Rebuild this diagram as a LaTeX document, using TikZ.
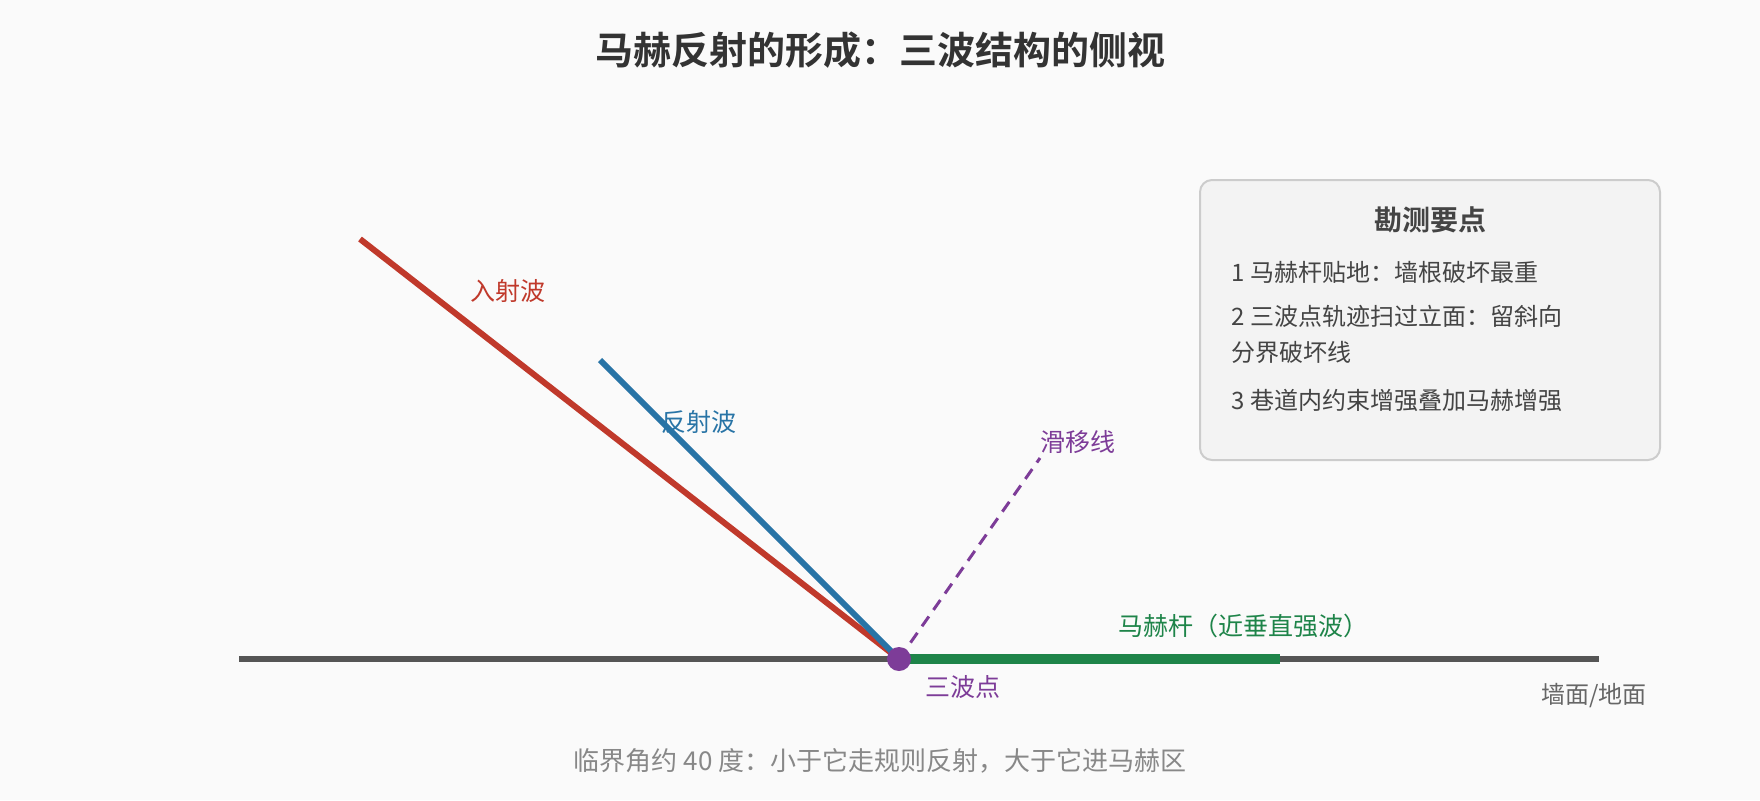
\documentclass[tikz,border=0pt]{standalone}
\usepackage{fontspec}
\setmainfont{Noto Sans CJK SC}[BoldFont={Noto Sans CJK SC Bold}]
\definecolor{bgcol}{HTML}{FAFAFA}
\definecolor{titlecol}{HTML}{333333}
\definecolor{incol}{HTML}{C0392B}
\definecolor{refcol}{HTML}{2874A6}
\definecolor{slipcol}{HTML}{7D3C98}
\definecolor{stemcol}{HTML}{1E8449}
\definecolor{groundcol}{HTML}{555555}
\definecolor{boxfill}{HTML}{F3F3F3}
\definecolor{boxline}{HTML}{CCCCCC}
\definecolor{itemcol}{HTML}{444444}
\definecolor{notecol}{HTML}{888888}
\definecolor{wallcol}{HTML}{666666}

\begin{document}
\begin{tikzpicture}[x = 0.5pt, y = -0.5pt,
                    lbl/.style = {inner sep = 0pt, font = \fontsize{12.5}{15}\selectfont},
                    item/.style = {inner sep = 0pt, anchor = west, text = itemcol, align = left,
                                   font = \fontsize{12}{18}\selectfont},
                    wave/.style = {line width = 3pt},
                    tpdot/.style = {circle, fill = slipcol, inner sep = 0pt, minimum size = 12pt}]
      \fill [bgcol] (0, 0) rectangle (1760, 800);
      \useasboundingbox (0, 0) rectangle (1760, 800);

      \node [text = titlecol, font = \fontsize{19}{23}\selectfont\bfseries] (title) at (880, 50)
            {马赫反射的形成：三波结构的侧视};

      \coordinate (gl) at (239, 659);
      \coordinate (gr) at (1599, 659);
      \coordinate (tp) at (899, 659);
      \coordinate (ms) at (1280, 659);
      \coordinate (inc) at (360, 239);
      \coordinate (refl) at (600, 360);
      \coordinate (slip) at (1040, 458);

      \draw [groundcol, line width = 3pt] (gl) -- (gr);
      \draw [stemcol, line width = 5pt] (tp) -- (ms);
      \draw [wave, incol] (inc) -- (tp);
      \draw [wave, refcol] (refl) -- (tp);
      \draw [slipcol, line width = 1.5pt, dash pattern = on 6pt off 4pt] (tp) -- (slip);
      \node [tpdot] (tpd) at (tp) {};

      \node [lbl, text = incol] (inclbl) at (508, 291) {入射波};
      \node [lbl, text = refcol] (refllbl) at (699, 422) {反射波};
      \node [lbl, text = slipcol, anchor = west] (sliplbl) at (1040, 442) {滑移线};
      \node [lbl, text = slipcol] (tplbl) at (963, 687) {三波点};
      \node [lbl, text = stemcol] (mslbl) at (1243, 626) {马赫杆（近垂直强波）};
      \node [lbl, text = wallcol, anchor = east, font = \fontsize{12}{14}\selectfont] (walllbl) at (1647, 696) {墙面/地面};

      \node [draw = boxline, fill = boxfill, line width = 1pt, rounded corners = 6pt,
             minimum width = 230pt, minimum height = 140pt] (panel) at (1430, 320) {};
      \node [text = itemcol, inner sep = 0pt, font = \fontsize{14}{17}\selectfont\bfseries] (head) at (1430, 220) {勘测要点};
      \node [item] (p1) at (1231, 272) {1 马赫杆贴地：墙根破坏最重};
      \node [item] (p2) at (1231, 334) {2 三波点轨迹扫过立面：留斜向\\分界破坏线};
      \node [item] (p3) at (1231, 400) {3 巷道内约束增强叠加马赫增强};

      \node [text = notecol, inner sep = 0pt, font = \fontsize{13}{16}\selectfont] (note) at (880, 761)
            {临界角约 40 度：小于它走规则反射，大于它进马赫区};
    \end{tikzpicture}
\end{document}
